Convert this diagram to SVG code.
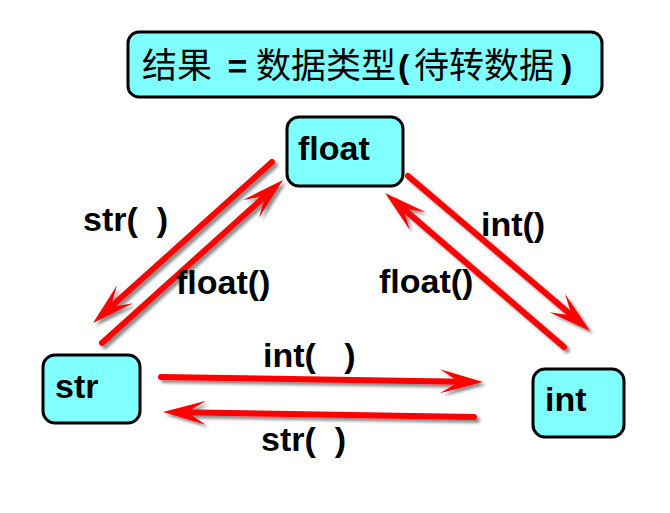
<svg xmlns="http://www.w3.org/2000/svg" width="670" height="513" viewBox="0 0 670 513">
<style>
.box{fill:#80FFFF;stroke:#000;stroke-width:3}
.lbl{font-family:"Liberation Sans",Arial,sans-serif;font-weight:bold;font-size:34px;fill:#000;white-space:pre}
.cjk{font-family:"Noto Sans CJK SC","Noto Sans",sans-serif;font-weight:normal;font-size:35px;fill:#000}
.asc{font-family:"Liberation Sans",Arial,sans-serif;font-weight:bold;font-size:34px;fill:#000;white-space:pre}
.arr{fill:none;stroke:#FF0000;stroke-width:6;stroke-linecap:round;marker-end:url(#head)}
</style>
<defs>
<marker id="head" markerUnits="userSpaceOnUse" markerWidth="80" markerHeight="80" refX="0" refY="0" orient="auto" overflow="visible" viewBox="-40 -40 80 80">
<path d="M20,0 L-23,-12 L-4,0 L-23,12 Z" fill="#FF0000"/>
</marker>
<filter id="sh" x="-20%" y="-20%" width="140%" height="140%">
<feDropShadow dx="3" dy="3" stdDeviation="1.8" flood-color="#000" flood-opacity="0.45"/>
</filter>
</defs>
<rect width="670" height="513" fill="#fff"/>
<g id="title">
<rect class="box" x="128" y="32" width="474" height="65" rx="11"/>
<text y="78"><tspan class="cjk" x="142">结果</tspan><tspan class="asc" x="218"> = </tspan><tspan class="cjk" x="256">数据类型</tspan><tspan class="asc" x="398">(</tspan><tspan class="cjk" x="414">待转数据</tspan><tspan class="asc" x="561">)</tspan></text>
</g>
<g id="connectors" filter="url(#sh)">
<path class="arr" d="M272,162 L107.9,309.6"/>
<path class="arr" d="M102,343 L268.1,193.4"/>
<path class="arr" d="M408,176 L574.8,318"/>
<path class="arr" d="M564,347 L400.2,206"/>
<path class="arr" d="M161,377 L463,381.7"/>
<path class="arr" d="M474,417 L183,412.3"/>
</g>
<g id="labels">
<text class="lbl" x="83" y="231">str(  )</text>
<text class="lbl" x="176" y="294">float()</text>
<text class="lbl" x="481" y="236">int()</text>
<text class="lbl" x="379" y="293">float()</text>
<text class="lbl" x="263" y="367">int(   )</text>
<text class="lbl" x="261" y="451">str(  )</text>
</g>
<g id="node-float">
<rect class="box" x="287" y="117" width="116" height="69" rx="12"/>
<text class="lbl" x="298" y="160">float</text>
</g>
<g id="node-str">
<rect class="box" x="43" y="355" width="97" height="68" rx="12"/>
<text class="lbl" x="55" y="398">str</text>
</g>
<g id="node-int">
<rect class="box" x="533" y="369" width="91" height="68" rx="12"/>
<text class="lbl" x="545" y="411">int</text>
</g>
</svg>
